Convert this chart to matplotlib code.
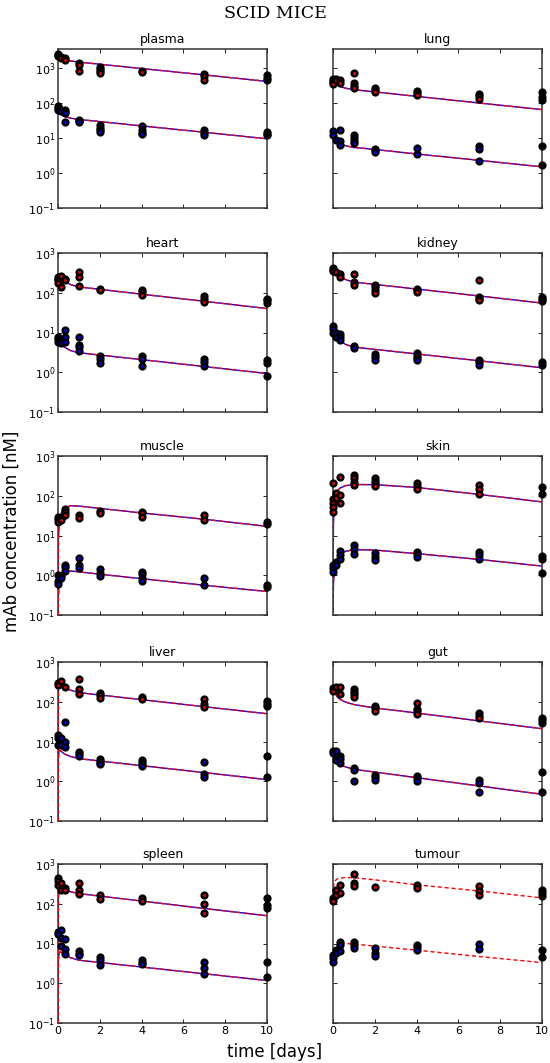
import numpy as np
import matplotlib
matplotlib.use("Agg")
import matplotlib.pyplot as plt
from matplotlib.ticker import FixedLocator, NullLocator

# sampling times of the measurements [days]
sample_t = [0.02, 0.12, 0.33, 1, 2, 4, 7, 10]
# time grid of the model curves [days]
fit_t = [0, 0.02, 0.05, 0.1, 0.2, 0.33, 0.6, 1, 2, 4, 7, 10]

organs = ["plasma", "lung", "heart", "kidney", "muscle",
          "skin", "liver", "gut", "spleen", "tumour"]

# measured concentrations [nM], high dose (red) and low dose (blue), one list per sample time
plasma_hi = [[2500, 2300, 2200], [2100, 1900], [1900, 1700], [1400, 1250, 850],
             [1100, 950, 800, 700], [840, 760], [670, 580, 460], [620, 520, 460]]
plasma_lo = [[80, 70, 65], [64, 60], [64, 55, 52, 28], [33, 30, 28],
             [24, 19, 17, 15], [22, 17, 14, 13], [17, 14, 12], [15, 13, 12]]
lung_hi = [[480, 430, 400, 340], [500, 460], [460, 370], [720, 370, 300, 270],
           [270, 240, 200], [225, 195, 175], [180, 155, 130], [200, 150, 120]]
lung_lo = [[16, 12.6], [9], [17, 8, 6.4], [12, 10, 8.4, 7],
           [5, 4.4, 3.9], [5.2, 3.5], [5.9, 5, 2.2], [5.9, 1.7]]
heart_hi = [[245, 225, 205, 175], [270, 140], [225, 205], [330, 250, 145],
            [127, 115], [115, 105, 90], [82, 70, 58], [70, 64, 55]]
heart_lo = [[7.9, 6.9, 5.7], [6.3, 5.3], [11.5, 7.6, 5.7], [7.9, 4.9, 4.2, 3.5],
            [2.6, 2.1, 1.7], [2.5, 2.1, 1.45], [2.2, 1.8, 1.45], [2.0, 1.7, 0.8]]
kidney_hi = [[420, 380, 350], [330], [300, 250], [300, 185, 155],
             [160, 140, 120, 100], [127, 115, 105], [205, 80, 70, 64], [78, 68, 62]]
kidney_lo = [[15, 12, 10], [10, 7.7], [9.3, 7.7, 6.3], [4.7, 4.1],
             [2.8, 2.4, 2.0], [3.0, 2.6, 2.3, 2.0], [2.0, 1.8, 1.55], [1.8, 1.55]]
muscle_hi = [[30, 26, 22], [27, 24], [46, 40, 33], [33, 27],
             [42, 36], [40, 36, 30], [33, 24], [22, 19]]
muscle_lo = [[1.0, 0.7, 0.6], [0.95, 0.85], [1.8, 1.6, 1.25], [2.7, 1.8, 1.5],
             [1.4, 1.15, 0.95], [1.2, 1.05, 0.85, 0.7], [0.85, 0.58], [0.58, 0.5]]
skin_hi = [[205, 85, 65, 51, 38], [120, 90], [300, 105, 65], [330, 275, 225, 185],
           [275, 240, 205, 175], [205, 175, 150], [185, 150, 110], [170, 110]]
skin_lo = [[1.8, 1.5, 1.2], [2.2, 1.8], [4.0, 3.2, 2.5], [5.7, 4.6, 3.5],
           [3.6, 2.9, 2.4], [3.8, 3.4, 2.9], [3.8, 3.2, 2.5], [3.1, 2.6, 1.15]]
liver_hi = [[300, 270], [340], [230], [370, 210, 155],
            [170, 145, 125], [130, 120], [120, 87, 75], [105, 90, 80]]
liver_lo = [[15, 12, 8.2], [12.5, 8.2], [31, 10, 7.3], [5.5, 4.9, 4.2],
            [3.6, 3.2, 2.9, 2.7], [3.5, 3.1, 2.7, 2.4], [3.1, 1.5, 1.3], [4.3, 1.3]]
gut_hi = [[225, 185], [230], [230, 160], [210, 180, 155, 130],
          [79, 69, 59], [91, 66, 57, 48], [51, 44, 38], [40, 34, 30]]
gut_lo = [[5.7, 5.1], [5.7, 3.5], [4.2, 3.7, 2.8], [2.2, 1.9, 1.0],
          [1.4, 1.3, 1.1], [1.35, 1.2, 1.0], [1.1, 0.9, 0.55], [1.7, 0.55]]
spleen_hi = [[440, 365, 300], [330, 225], [250, 220], [330, 220, 180],
             [165, 130], [140, 120], [165, 100, 60], [140, 95, 80]]
spleen_lo = [[20, 17], [22, 14, 8.5], [13, 7.3, 5.4], [6.4, 5.6, 5.0],
             [4.5, 3.8, 2.9], [3.8, 3.3, 3.0], [3.4, 2.4, 1.7], [3.4, 1.4]]
tumour_hi = [[140, 115], [225, 170], [300, 190], [560, 330, 275],
             [260], [300, 250], [285, 215, 170], [225, 190, 160]]
tumour_lo = [[5.2, 4.3, 3.5], [7, 5.8], [11, 9.3, 6.4], [11, 9.3, 7.6],
             [7.6, 5.8, 4.9], [9.3, 8.1, 7], [9.6, 7.3], [7, 4.7]]

# model predictions [nM] on fit_t
plasma_fit_hi = [2600, 2500, 2350, 2200, 1950, 1750, 1600, 1480, 1285, 968, 636, 415]
plasma_fit_lo = [75, 68, 60, 52, 45, 41, 37, 34, 29.5, 22.2, 14.6, 9.5]
lung_fit_hi = [450, 420, 390, 360, 330, 300, 265, 240, 208, 155, 100, 65]
lung_fit_lo = [13, 12, 10.5, 9, 7.8, 7, 6, 5.4, 4.7, 3.5, 2.3, 1.5]
heart_fit_hi = [260, 260, 255, 240, 215, 195, 160, 140, 122, 92, 61, 40]
heart_fit_lo = [7, 7, 6.5, 5.8, 4.8, 4.2, 3.5, 3.1, 2.71, 2.08, 1.39, 0.93]
kidney_fit_hi = [400, 390, 370, 340, 290, 255, 215, 185, 162, 124, 83, 55]
kidney_fit_lo = [12, 11.5, 10.5, 9.3, 7.5, 6.3, 5.0, 4.3, 3.76, 2.89, 1.94, 1.3]
muscle_fit_hi = [0.1, 8, 18, 30, 42, 50, 56, 55, 48, 37, 25.6, 17]
muscle_fit_lo = [0.1, 0.3, 0.6, 0.9, 1.1, 1.22, 1.28, 1.22, 1.06, 0.82, 0.56, 0.39]
skin_fit_hi = [0.1, 20, 50, 90, 130, 155, 180, 192, 190, 162, 108, 70]
skin_fit_lo = [0.1, 0.6, 1.2, 1.8, 2.6, 3.2, 4.0, 4.4, 4.3, 3.5, 2.5, 1.7]
liver_fit_hi = [0.1, 200, 260, 265, 245, 225, 195, 170, 148, 113, 75, 50]
liver_fit_lo = [0.1, 4, 5.8, 6.0, 5.4, 4.8, 4.2, 3.7, 3.23, 2.47, 1.65, 1.1]
gut_fit_hi = [240, 220, 190, 165, 135, 115, 98, 85, 70, 52, 33, 21]
gut_fit_lo = [4.5, 4.2, 3.7, 3.3, 2.9, 2.6, 2.3, 2.0, 1.70, 1.23, 0.76, 0.47]
spleen_fit_hi = [0.1, 150, 215, 240, 235, 225, 200, 180, 156, 117, 76, 50]
spleen_fit_lo = [0.1, 4, 5.6, 6.2, 5.8, 5.2, 4.4, 3.8, 3.33, 2.56, 1.73, 1.17]
tumour_fit_hi = [170, 250, 330, 380, 420, 440, 460, 450, 400, 300, 210, 140]
tumour_fit_lo = [1.5, 3, 5, 7, 8.5, 9.5, 10, 9.7, 8.6, 6.8, 4.7, 3.3]

meas = {
    "plasma": (plasma_hi, plasma_lo), "lung": (lung_hi, lung_lo),
    "heart": (heart_hi, heart_lo), "kidney": (kidney_hi, kidney_lo),
    "muscle": (muscle_hi, muscle_lo), "skin": (skin_hi, skin_lo),
    "liver": (liver_hi, liver_lo), "gut": (gut_hi, gut_lo),
    "spleen": (spleen_hi, spleen_lo), "tumour": (tumour_hi, tumour_lo),
}
fits = {
    "plasma": (plasma_fit_hi, plasma_fit_lo), "lung": (lung_fit_hi, lung_fit_lo),
    "heart": (heart_fit_hi, heart_fit_lo), "kidney": (kidney_fit_hi, kidney_fit_lo),
    "muscle": (muscle_fit_hi, muscle_fit_lo), "skin": (skin_fit_hi, skin_fit_lo),
    "liver": (liver_fit_hi, liver_fit_lo), "gut": (gut_fit_hi, gut_fit_lo),
    "spleen": (spleen_fit_hi, spleen_fit_lo), "tumour": (tumour_fit_hi, tumour_fit_lo),
}

W, H = 550, 1063
fig = plt.figure(figsize=(W / 100, H / 100), dpi=100)

col_left = [58, 333]
row_top = [49, 253, 456, 662, 864]
ax_w, ax_h = 209, 159

for k, name in enumerate(organs):
    r, c = divmod(k, 2)
    ax = fig.add_axes([col_left[c] / W, 1 - (row_top[r] + ax_h) / H, ax_w / W, ax_h / H])
    ax.set_yscale("log")
    ax.set_xlim(0, 10)
    ax.set_ylim(0.1, 3500 if r == 0 else 1000)

    fh, fl = fits[name]
    if name != "tumour":
        ax.plot(fit_t, fh, color="blue", lw=1.0, zorder=2)
        ax.plot(fit_t, fl, color="blue", lw=1.0, zorder=2)
    ax.plot(fit_t, fh, color="red", lw=1.0, ls=(0, (3, 2)), zorder=3)
    ax.plot(fit_t, fl, color="red", lw=1.0, ls=(0, (3, 2)), zorder=3)

    mh, ml = meas[name]
    for vals, col in ((mh, "red"), (ml, "blue")):
        for t, vs in zip(sample_t, vals):
            fc = "black" if t == 10 else col
            ax.plot([t] * len(vs), vs, "o", ms=4.0, mfc=fc, mec="black",
                    mew=1.9, zorder=4, clip_on=False)

    ax.set_title(name, fontsize=9, pad=4)
    ax.yaxis.set_major_locator(FixedLocator([0.1, 1, 10, 100, 1000]))
    ax.yaxis.set_minor_locator(NullLocator())
    ax.set_xticks([0, 2, 4, 6, 8, 10])
    ax.tick_params(direction="in", length=3, width=0.6, top=True, right=True,
                   labelsize=8, pad=2)
    if c == 1:
        ax.set_yticklabels([])
    if r < 4:
        ax.set_xticklabels([])
    for s in ax.spines.values():
        s.set_linewidth(1.1)
        s.set_color("#333333")

fig.text(0.5, 1 - 14 / H, "SCID MICE", ha="center", va="center",
         family="DejaVu Serif", fontsize=12.5)
fig.text(12 / W, 0.5, "mAb concentration [nM]", rotation=90, ha="center",
         va="center", fontsize=12)
fig.text(0.5, 1 - 1052 / H, "time [days]", ha="center", va="center", fontsize=12)

fig.savefig("out.png", dpi=100)
